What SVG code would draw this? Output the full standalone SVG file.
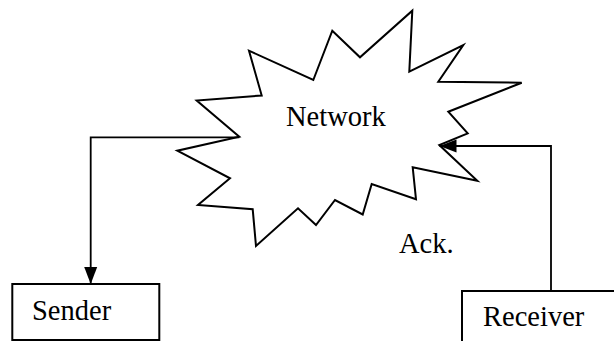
<svg xmlns="http://www.w3.org/2000/svg" width="614" height="341" viewBox="0 0 614 341">
  <style>
    .shape { fill: #fff; stroke: #000; stroke-width: 2; stroke-linejoin: miter; }
    .wire { fill: none; stroke: #000; stroke-width: 1.8; }
    .label { font-family: "Liberation Serif", "Times New Roman", serif; font-size: 28.5px; fill: #000; }
  </style>
  <defs>
    <marker id="head" markerUnits="userSpaceOnUse" markerWidth="18" markerHeight="14" refX="17" refY="7" orient="auto">
      <path d="M0,0.5 L17,7 L0,13.5 Z" fill="#000"/>
    </marker>
  </defs>
  <rect width="614" height="341" fill="#fff"/>

  <g id="network">
    <polygon class="shape" points="412.3,10.7 409.3,71.7 463.3,45 438.3,81.7 521.7,82.7 448.3,111.7 467.7,133.3 439.3,145 477.3,180.7 412.7,167.3 416,199.3 371.7,184 362.7,214.5 335,200 316,225 298,208.3 256,246 252.7,209.3 198,205 230,178.3 177.3,150.7 239.3,136.7 196.7,100.5 261.7,95.5 249,50.7 313.3,80 332.3,30.7 360,57.3"/>
    <text class="label" x="286" y="126">Network</text>
  </g>

  <g id="sender">
    <rect class="shape" x="12.3" y="284" width="147" height="56"/>
    <text class="label" x="32" y="320">Sender</text>
  </g>

  <g id="receiver">
    <rect class="shape" x="462" y="291" width="160" height="60"/>
    <text class="label" x="483" y="326">Receiver</text>
  </g>

  <g id="connectors">
    <polyline class="wire" points="239.3,137.3 90.7,137.3 90.7,284" marker-end="url(#head)"/>
    <polyline class="wire" points="551,291 551,146 439.5,146" marker-end="url(#head)"/>
    <text class="label" x="399" y="253">Ack.</text>
  </g>
</svg>
